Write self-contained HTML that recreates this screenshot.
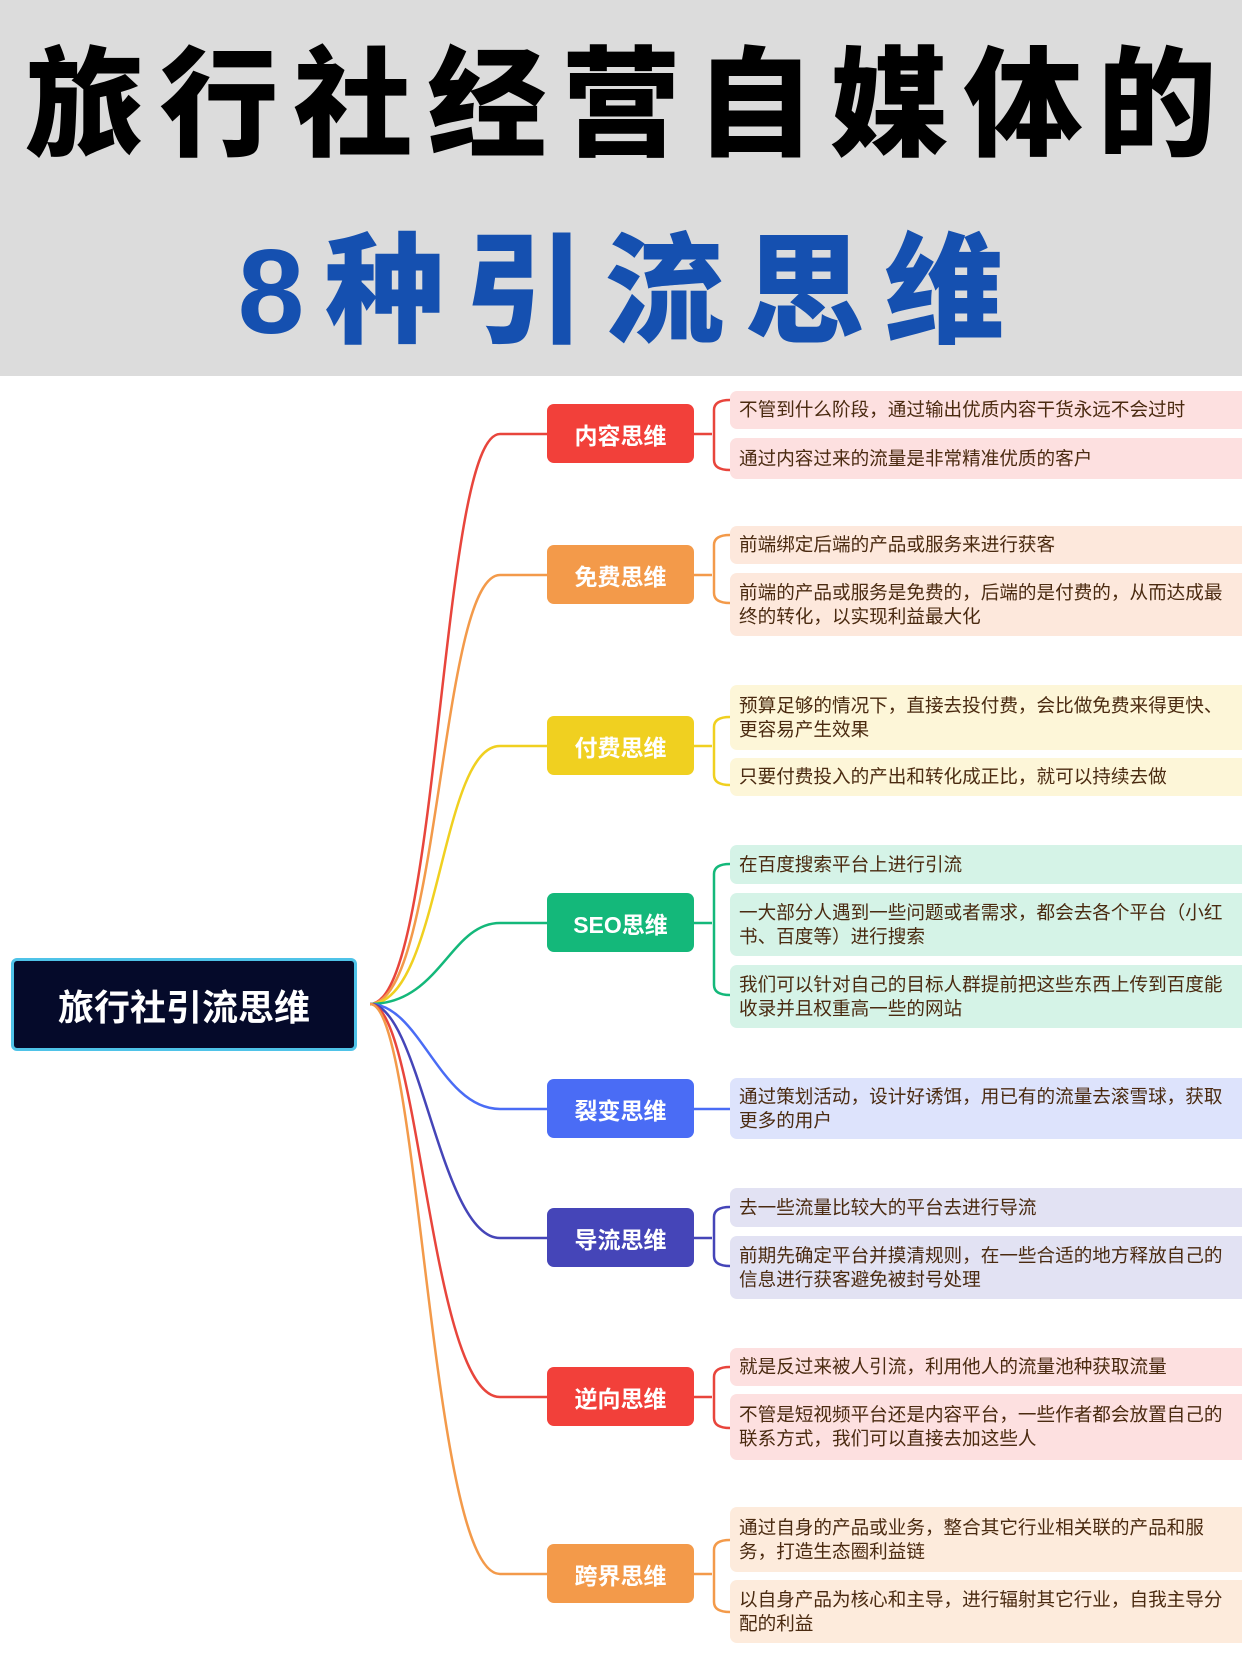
<!DOCTYPE html>
<html><head><meta charset="utf-8"><style>
*{margin:0;padding:0;box-sizing:border-box}
body{width:1242px;height:1660px;background:#fff;position:relative;overflow:hidden;font-family:"Liberation Sans","Noto Sans CJK SC",sans-serif}
.hdr{position:absolute;left:0;top:0;width:1242px;height:376px;background:#dcdcdc}
.t1,.t2{position:absolute;left:0;width:1242px;text-align:center;font-weight:900;white-space:nowrap}
.t1{top:36px;font-size:119px;line-height:140px;letter-spacing:15px;color:#000;padding-left:15px}
.t2{top:222px;font-size:120px;line-height:140px;letter-spacing:20px;color:#1550b0;padding-left:20px}
.root{position:absolute;left:11px;top:958px;width:346px;height:93px;background:#050a2a;border:3px solid #4fc3e8;border-radius:6px;color:#fff;font-weight:700;font-size:36px;display:flex;align-items:center;justify-content:center}
.br{position:absolute;left:547px;width:147px;height:59px;border-radius:7px;color:#fff;font-weight:700;font-size:23px;display:flex;align-items:center;justify-content:center}
.lf{position:absolute;left:730px;width:512px;border-radius:7px 0 0 7px;padding:0 12px 0 9px;font-size:18.6px;line-height:24px;color:#4a2a10;display:flex;align-items:center}
svg{position:absolute;left:0;top:0}
</style></head><body>
<div class="hdr"></div>
<div class="t1">旅行社经营自媒体的</div>
<div class="t2">8种引流思维</div>
<svg width="1242" height="1660" fill="none" stroke-width="2.5">
<path d="M370 1004 C440 1004 440 434 500 434 L547 434" stroke="#e8453c"/>
<path d="M370 1004 C440 1004 440 575 500 575 L547 575" stroke="#f39a4a"/>
<path d="M370 1004 C440 1004 440 746 500 746 L547 746" stroke="#f0d020"/>
<path d="M370 1004 C440 1004 450 923 500 923 L547 923" stroke="#14b87a"/>
<path d="M370 1004 C420 1004 440 1109 500 1109 L547 1109" stroke="#4a6cf5"/>
<path d="M370 1004 C420 1004 440 1238 500 1238 L547 1238" stroke="#4545b8"/>
<path d="M370 1004 C420 1004 430 1397 500 1397 L547 1397" stroke="#e8453c"/>
<path d="M370 1004 C420 1004 430 1574 500 1574 L547 1574" stroke="#f39a4a"/>
<g stroke="#e8453c"><path d="M694 434 H712 M730 400 Q714 400 714 410 V460 Q714 470 730 470"/></g>
<g stroke="#f39a4a"><path d="M694 575 H712 M730 535 Q714 535 714 545 V593 Q714 603 730 603"/></g>
<g stroke="#f0d020"><path d="M694 746 H712 M730 717 Q714 717 714 727 V775 Q714 785 730 785"/></g>
<g stroke="#14b87a"><path d="M694 923 H712 M730 864 Q714 864 714 874 V985 Q714 995 730 995"/></g>
<g stroke="#4a6cf5"><path d="M694 1109 H730"/></g>
<g stroke="#4545b8"><path d="M694 1238 H712 M730 1207 Q714 1207 714 1217 V1256 Q714 1266 730 1266"/></g>
<g stroke="#e8453c"><path d="M694 1397 H712 M730 1367 Q714 1367 714 1377 V1418 Q714 1428 730 1428"/></g>
<g stroke="#f39a4a"><path d="M694 1574 H712 M730 1540 Q714 1540 714 1550 V1602 Q714 1612 730 1612"/></g>
</svg>
<div class="root">旅行社引流思维</div>
<div class="br" style="top:404px;background:#f2403a">内容思维</div>
<div class="br" style="top:545px;background:#f39a4a">免费思维</div>
<div class="br" style="top:716px;background:#f0d020">付费思维</div>
<div class="br" style="top:893px;background:#14b87a">SEO思维</div>
<div class="br" style="top:1079px;background:#4a6cf5">裂变思维</div>
<div class="br" style="top:1208px;background:#4545b8">导流思维</div>
<div class="br" style="top:1367px;background:#f2403a">逆向思维</div>
<div class="br" style="top:1544px;background:#f39a4a">跨界思维</div>

<div class="lf" style="top:391px;height:38px;background:#fde0e0">不管到什么阶段，通过输出优质内容干货永远不会过时</div>
<div class="lf" style="top:438px;height:41px;background:#fde0e0">通过内容过来的流量是非常精准优质的客户</div>
<div class="lf" style="top:526px;height:38px;background:#fde8dc">前端绑定后端的产品或服务来进行获客</div>
<div class="lf" style="top:573px;height:63px;background:#fde8dc">前端的产品或服务是免费的，后端的是付费的，从而达成最终的转化，以实现利益最大化</div>
<div class="lf" style="top:685px;height:65px;background:#fdf6d8">预算足够的情况下，直接去投付费，会比做免费来得更快、更容易产生效果</div>
<div class="lf" style="top:758px;height:38px;background:#fdf6d8">只要付费投入的产出和转化成正比，就可以持续去做</div>
<div class="lf" style="top:845px;height:39px;background:#d5f3e7">在百度搜索平台上进行引流</div>
<div class="lf" style="top:893px;height:63px;background:#d5f3e7">一大部分人遇到一些问题或者需求，都会去各个平台（小红书、百度等）进行搜索</div>
<div class="lf" style="top:965px;height:63px;background:#d5f3e7">我们可以针对自己的目标人群提前把这些东西上传到百度能收录并且权重高一些的网站</div>
<div class="lf" style="top:1078px;height:61px;background:#dde3fc">通过策划活动，设计好诱饵，用已有的流量去滚雪球，获取更多的用户</div>
<div class="lf" style="top:1188px;height:39px;background:#e2e2f3">去一些流量比较大的平台去进行导流</div>
<div class="lf" style="top:1236px;height:63px;background:#e2e2f3">前期先确定平台并摸清规则，在一些合适的地方释放自己的信息进行获客避免被封号处理</div>
<div class="lf" style="top:1348px;height:38px;background:#fde0e0">就是反过来被人引流，利用他人的流量池种获取流量</div>
<div class="lf" style="top:1394px;height:66px;background:#fde0e0">不管是短视频平台还是内容平台，一些作者都会放置自己的联系方式，我们可以直接去加这些人</div>
<div class="lf" style="top:1507px;height:65px;background:#fdebdc">通过自身的产品或业务，整合其它行业相关联的产品和服务，打造生态圈利益链</div>
<div class="lf" style="top:1580px;height:63px;background:#fdebdc">以自身产品为核心和主导，进行辐射其它行业，自我主导分配的利益</div>
</body></html>
